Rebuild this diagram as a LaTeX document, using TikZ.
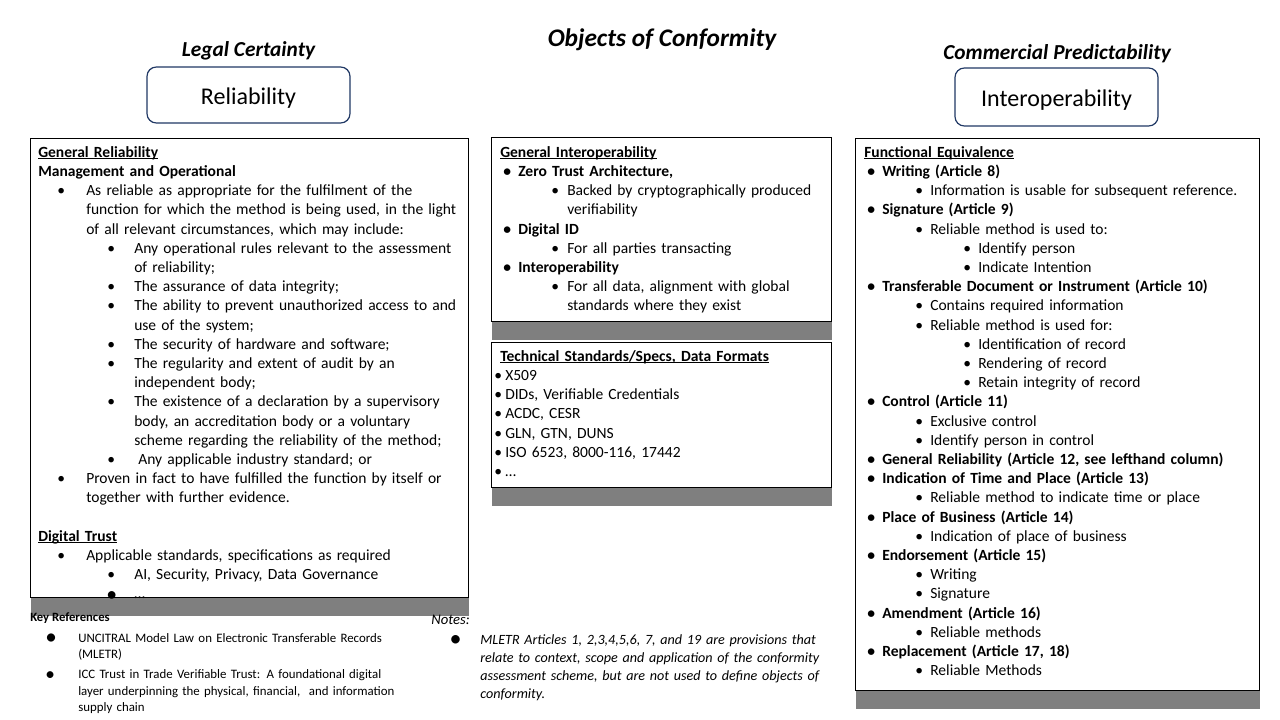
\documentclass[tikz,border=0pt]{standalone}
\usepackage{fontspec}
\setmainfont{Carlito}
\usetikzlibrary{positioning,shadows}
\definecolor{navyline}{HTML}{203864}
\definecolor{shadowgray}{HTML}{7F7F7F}
\newcommand{\undl}[1]{\leavevmode\setbox0\hbox{#1}\rlap{\rule[-1.6pt]{\wd0}{0.7pt}}\box0}
\newcommand{\ttl}[1]{\strut\undl{\textbf{#1}}}
\newcommand{\itm}[3]{\strut\hspace*{#1}\makebox[#2][l]{\textbullet}#3}
\newcommand{\cnt}[2]{\strut\hspace*{#1}#2}
\newcommand{\bigbul}[1]{\raisebox{-0.3ex}{\scalebox{#1}{\textbullet}}}
\newcommand{\jline}[1]{\makebox[253.5pt][s]{#1}}
\tikzset{
  panel/.style={draw=black, line width=0.75pt, fill=white, anchor=north west, inner sep=0pt,
    drop shadow={shadow xshift=0pt, shadow yshift=-13.5pt, fill=shadowgray, opacity=1}},
  pillar/.style={draw=navyline, line width=0.9pt, rounded corners=7pt, fill=white, inner sep=0pt,
    text height=15pt, text depth=0pt, font=\fontsize{18}{21.6}\selectfont},
  heading/.style={font=\fontsize{16}{19.2}\selectfont\bfseries\itshape, inner sep=0pt, anchor=base},
  body/.style={anchor=north west, inner sep=0pt, align=left, text width=340pt,
    font=\fontsize{11.65}{14.4}\selectfont},
}
\begin{document}
\begin{tikzpicture}[x=0.75pt, y=-0.75pt]
\useasboundingbox (0,0) rectangle (1280,720);
% headings and pillars
\node[heading, font=\fontsize{19}{22.8}\selectfont\bfseries\itshape] (title) at (662,47) {Objects of Conformity};
\node[pillar, minimum width=152.25pt, minimum height=42pt] (reliability) at (248.5,95) {Reliability};
\node[pillar, minimum width=152.25pt, minimum height=43.5pt] (interop) at (1056.5,97) {Interoperability};
\node[heading] (legal) at (248.5,57) {Legal Certainty};
\node[heading] (commercial) at (1057,60) {Commercial Predictability};
% panels
\node[panel, minimum width=328.5pt, minimum height=344.25pt] (relpanel) at (30,138) {};
\node[panel, minimum width=255pt, minimum height=138pt] (genpanel) at (491,137) {};
\node[panel, minimum width=255pt, minimum height=108.75pt] (techpanel) at (491,342) {};
\node[panel, minimum width=303pt, minimum height=414pt] (funcpanel) at (855,138) {};
% left column
\node[body, xshift=6pt, yshift=-4.17pt] (reltext) at (relpanel.north west) {%
\ttl{General Reliability}\\
\strut\textbf{Management and Operational}\\
\itm{14.25pt}{21.75pt}{As reliable as appropriate for the fulfilment of the}\\
\cnt{36pt}{function for which the method is being used, in the light}\\
\cnt{36pt}{of all relevant circumstances, which may include:}\\
\itm{51.75pt}{20.25pt}{Any operational rules relevant to the assessment}\\
\cnt{72pt}{of reliability;}\\
\itm{51.75pt}{20.25pt}{The assurance of data integrity;}\\
\itm{51.75pt}{20.25pt}{The ability to prevent unauthorized access to and}\\
\cnt{72pt}{use of the system;}\\
\itm{51.75pt}{20.25pt}{The security of hardware and software;}\\
\itm{51.75pt}{20.25pt}{The regularity and extent of audit by an}\\
\cnt{72pt}{independent body;}\\
\itm{51.75pt}{20.25pt}{The existence of a declaration by a supervisory}\\
\cnt{72pt}{body, an accreditation body or a voluntary}\\
\cnt{72pt}{scheme regarding the reliability of the method;}\\
\itm{51.75pt}{23.25pt}{Any applicable industry standard; or}\\
\itm{14.25pt}{21.75pt}{Proven in fact to have fulfilled the function by itself or}\\
\cnt{36pt}{together with further evidence.}\\
\strut\\
\ttl{Digital Trust}\\
\itm{14.25pt}{21.75pt}{Applicable standards, specifications as required}\\
\itm{51.75pt}{20.25pt}{AI, Security, Privacy, Data Governance}\\
\strut\hspace*{51pt}\makebox[21pt][l]{\bigbul{1.4}}…};
% middle column
\node[body, xshift=6.75pt, yshift=-4.92pt] (gentext) at (genpanel.north west) {%
\ttl{General Interoperability}\\
{\bfseries\itm{2.25pt}{11.25pt}{Zero Trust Architecture,}}\\
\itm{38.25pt}{12pt}{Backed by cryptographically produced}\\
\cnt{50.25pt}{verifiability}\\
{\bfseries\itm{2.25pt}{11.25pt}{Digital ID}}\\
\itm{38.25pt}{12pt}{For all parties transacting}\\
{\bfseries\itm{2.25pt}{11.25pt}{Interoperability}}\\
\itm{38.25pt}{12pt}{For all data, alignment with global}\\
\cnt{50.25pt}{standards where they exist}};
\node[body, xshift=2.25pt, yshift=-4.17pt] (techtext) at (techpanel.north west) {%
\strut\hspace*{4.5pt}\undl{\textbf{Technical Standards/Specs, Data Formats}}\\
\itm{0pt}{8.25pt}{X509}\\
\itm{0pt}{8.25pt}{DIDs, Verifiable Credentials}\\
\itm{0pt}{8.25pt}{ACDC, CESR}\\
\itm{0pt}{8.25pt}{GLN, GTN, DUNS}\\
\itm{0pt}{8.25pt}{ISO 6523, 8000-116, 17442}\\
\itm{0pt}{8.25pt}{…}};
% right column
\node[body, xshift=6.75pt, yshift=-4.17pt] (functext) at (funcpanel.north west) {%
\ttl{Functional Equivalence}\\
{\bfseries\itm{2.25pt}{11.25pt}{Writing (Article 8)}}\\
\itm{38.25pt}{11.25pt}{Information is usable for subsequent reference.}\\
{\bfseries\itm{2.25pt}{11.25pt}{Signature (Article 9)}}\\
\itm{38.25pt}{11.25pt}{Reliable method is used to:}\\
\itm{74.25pt}{11.25pt}{Identify person}\\
\itm{74.25pt}{11.25pt}{Indicate Intention}\\
{\bfseries\itm{2.25pt}{11.25pt}{Transferable Document or Instrument (Article 10)}}\\
\itm{38.25pt}{11.25pt}{Contains required information}\\
\itm{38.25pt}{11.25pt}{Reliable method is used for:}\\
\itm{74.25pt}{11.25pt}{Identification of record}\\
\itm{74.25pt}{11.25pt}{Rendering of record}\\
\itm{74.25pt}{11.25pt}{Retain integrity of record}\\
{\bfseries\itm{2.25pt}{11.25pt}{Control (Article 11)}}\\
\itm{38.25pt}{11.25pt}{Exclusive control}\\
\itm{38.25pt}{11.25pt}{Identify person in control}\\
{\bfseries\itm{2.25pt}{11.25pt}{General Reliability (Article 12, see lefthand column)}}\\
{\bfseries\itm{2.25pt}{11.25pt}{Indication of Time and Place (Article 13)}}\\
\itm{38.25pt}{11.25pt}{Reliable method to indicate time or place}\\
{\bfseries\itm{2.25pt}{11.25pt}{Place of Business (Article 14)}}\\
\itm{38.25pt}{11.25pt}{Indication of place of business}\\
{\bfseries\itm{2.25pt}{11.25pt}{Endorsement (Article 15)}}\\
\itm{38.25pt}{11.25pt}{Writing}\\
\itm{38.25pt}{11.25pt}{Signature}\\
{\bfseries\itm{2.25pt}{11.25pt}{Amendment (Article 16)}}\\
\itm{38.25pt}{11.25pt}{Reliable methods}\\
{\bfseries\itm{2.25pt}{11.25pt}{Replacement (Article 17, 18)}}\\
\itm{38.25pt}{11.25pt}{Reliable Methods}};
% key references and notes
\node[anchor=base west, inner sep=0pt, font=\fontsize{9.5}{11.4}\selectfont\bfseries] (keyhead) at (30,621) {Key References};
\node[anchor=north west, inner sep=0pt, align=left, text width=340pt, font=\fontsize{9.65}{12.2}\selectfont] (keylist) at (45,630.6) {%
\strut\makebox[24.75pt][l]{\bigbul{1.8}}UNCITRAL Model Law on Electronic Transferable Records\\
\cnt{24.75pt}{(MLETR)}\\[3pt]
\strut\makebox[24.75pt][l]{\bigbul{1.5}}ICC Trust in Trade Verifiable Trust: A foundational digital\\
\cnt{24.75pt}{layer underpinning the physical, financial,\ \ and information}\\
\cnt{24.75pt}{supply chain}};
\node[anchor=base east, inner sep=0pt, font=\fontsize{11}{13.2}\selectfont\itshape] (noteshead) at (470,624) {Notes:};
\node[anchor=north west, inner sep=0pt, align=left, text width=340pt, font=\fontsize{10.6}{13.7}\selectfont\itshape] (noteslist) at (449,631) {%
\strut\makebox[23.25pt][l]{\bigbul{1.7}}\jline{MLETR Articles 1, 2,3,4,5,6, 7, and 19 are provisions that}\\
\cnt{23.25pt}{\jline{relate to context, scope and application of the conformity}}\\
\cnt{23.25pt}{\jline{assessment scheme, but are not used to define objects of}}\\
\cnt{23.25pt}{conformity.}};
\end{tikzpicture}
\end{document}
